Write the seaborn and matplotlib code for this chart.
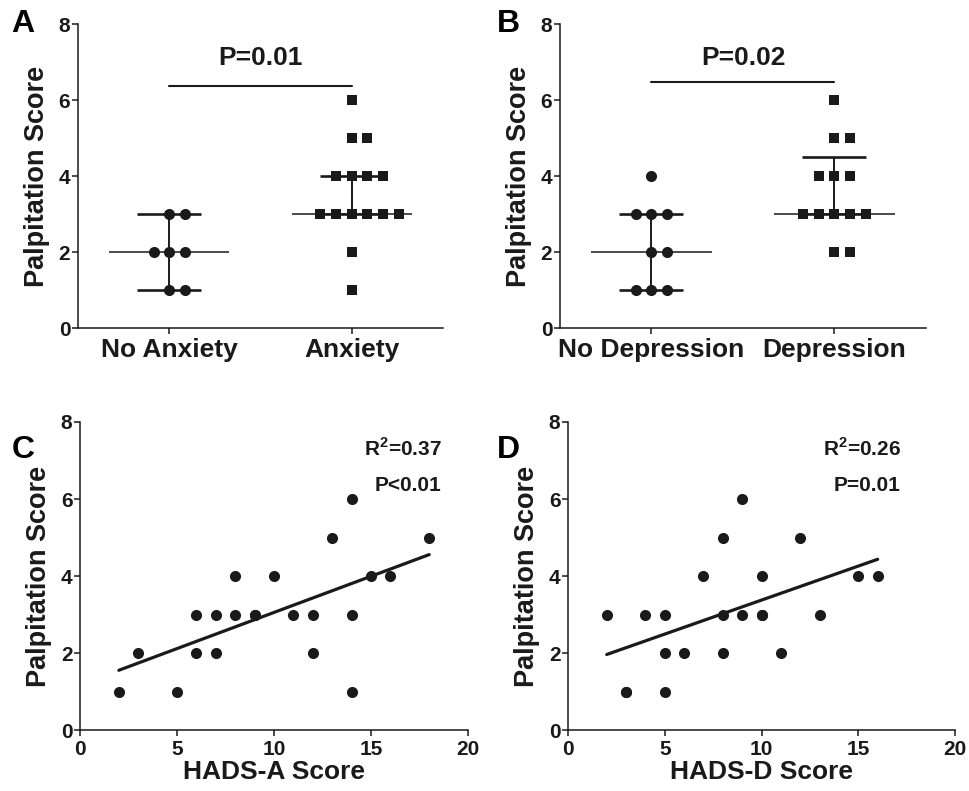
import numpy as np
import pandas as pd
import matplotlib
matplotlib.use("Agg")
import matplotlib.pyplot as plt
import seaborn as sns

# ---------------- data ----------------
anx_groups = ["No Anxiety", "Anxiety"]
no_anxiety = [3, 3, 2, 2, 2, 1, 1]
anxiety = [6, 5, 5, 4, 4, 4, 4, 3, 3, 3, 3, 3, 3, 2, 1]
p_anx = "P=0.01"

dep_groups = ["No Depression", "Depression"]
no_depression = [4, 3, 3, 3, 2, 2, 1, 1, 1]
depression = [6, 5, 5, 4, 4, 4, 3, 3, 3, 3, 3, 2, 2]
p_dep = "P=0.02"

hads_a = [2, 3, 5, 6, 6, 7, 7, 8, 8, 9, 9, 10, 11, 12, 12, 13, 14, 14, 14, 15, 16, 18]
palp_a = [1, 2, 1, 3, 2, 3, 2, 4, 3, 3, 3, 4, 3, 3, 2, 5, 6, 3, 1, 4, 4, 5]
stats_a = [r"R$^{\mathbf{2}}$=0.37", "P<0.01"]

hads_d = [2, 3, 3, 4, 5, 5, 5, 6, 7, 8, 8, 8, 9, 9, 10, 10, 10, 11, 12, 13, 15, 16]
palp_d = [3, 1, 1, 3, 3, 2, 1, 2, 4, 5, 3, 2, 6, 3, 4, 3, 3, 2, 5, 3, 4, 4]
stats_d = [r"R$^{\mathbf{2}}$=0.26", "P=0.01"]

y_ticks = [0, 2, 4, 6, 8]
x_ticks_scatter = [0, 5, 10, 15, 20]
panel_letters = ["A", "B", "C", "D"]

# ---------------- style ----------------
sns.set_theme(style="ticks")
plt.rcParams["font.family"] = ["Liberation Sans", "DejaVu Sans"]
plt.rcParams["font.weight"] = "bold"
plt.rcParams["axes.labelweight"] = "bold"
plt.rcParams["mathtext.fontset"] = "custom"
plt.rcParams["mathtext.bf"] = "Liberation Sans:bold"
plt.rcParams["mathtext.rm"] = "Liberation Sans:bold"
INK = "#1a1a1a"

fig = plt.figure(figsize=(9.7, 7.91), dpi=100)


def style_axes(ax):
    sns.despine(ax=ax)
    for s in ("left", "bottom"):
        ax.spines[s].set_linewidth(1.1)
        ax.spines[s].set_color(INK)
    ax.tick_params(direction="out", length=4, width=1.1, color=INK,
                   labelcolor=INK, pad=1.5)
    ax.set_ylim(0, 8)
    ax.set_yticks(y_ticks)
    for lab in ax.get_yticklabels():
        lab.set_fontsize(15)
        lab.set_fontweight("bold")
    ax.set_ylabel("Palpitation Score", fontsize=19.5, fontweight="bold",
                  color=INK, labelpad=6)


def dot_positions(values, center, step=0.086):
    vals = np.asarray(values)
    xs = np.empty(len(vals), float)
    for v in np.unique(vals):
        idx = np.where(vals == v)[0]
        k = len(idx)
        xs[idx] = center + (np.arange(k) - (k - 1) // 2) * step
    return xs


def dot_panel(ax, groups, vals0, vals1, ptxt, bar_y):
    df = pd.DataFrame({
        "group": [groups[0]] * len(vals0) + [groups[1]] * len(vals1),
        "score": list(vals0) + list(vals1),
        "x": np.concatenate([dot_positions(vals0, 0), dot_positions(vals1, 1)]),
    })
    sns.scatterplot(data=df[df.group == groups[0]], x="x", y="score",
                    marker="o", s=64, color=INK, linewidth=0, ax=ax,
                    legend=False, zorder=3)
    sns.scatterplot(data=df[df.group == groups[1]], x="x", y="score",
                    marker="s", s=56, color=INK, linewidth=0, ax=ax,
                    legend=False, zorder=3)
    for i, g in enumerate(groups):
        v = df.loc[df.group == g, "score"].values
        q1, med, q3 = np.percentile(v, [25, 50, 75], method="weibull")
        ax.hlines(med, i - 0.33, i + 0.33, color=INK, lw=1.1, zorder=2)
        ax.hlines([q1, q3], i - 0.175, i + 0.175, color=INK, lw=1.9, zorder=2)
        ax.vlines(i, q1, q3, color=INK, lw=1.4, zorder=2)
    ax.plot([0, 1], [bar_y, bar_y], color=INK, lw=1.5)
    ax.text(0.5, 7.1, ptxt, ha="center", va="center", fontsize=19,
            fontweight="bold", color=INK)
    ax.set_xlim(-0.5, 1.5)
    style_axes(ax)
    ax.set_xticks([0, 1])
    ax.set_xticklabels(groups, fontsize=19, fontweight="bold")
    ax.tick_params(axis="x", pad=3)
    ax.set_xlabel("")


def reg_panel(ax, x, y, stats, xlabel, text_x):
    sns.regplot(x=x, y=y, ci=None, ax=ax,
                scatter_kws=dict(s=64, color=INK, linewidths=0, alpha=1),
                line_kws=dict(color=INK, lw=2.3))
    ax.set_xlim(0, 20)
    ax.set_xticks(x_ticks_scatter)
    style_axes(ax)
    for lab in ax.get_xticklabels():
        lab.set_fontsize(15)
        lab.set_fontweight("bold")
    ax.tick_params(axis="x", pad=3)
    ax.set_xlabel(xlabel, fontsize=19, fontweight="bold", color=INK,
                  labelpad=1)
    ax.text(text_x, 7.32, stats[0], ha="right", va="center", fontsize=15,
            fontweight="bold", color=INK)
    ax.text(text_x, 6.35, stats[1], ha="right", va="center", fontsize=15,
            fontweight="bold", color=INK)


axA = fig.add_axes([0.0804, 0.5853, 0.3763, 0.3843])
axB = fig.add_axes([0.5773, 0.5853, 0.3773, 0.3843])
axC = fig.add_axes([0.0825, 0.0771, 0.400, 0.3894])
axD = fig.add_axes([0.5856, 0.0771, 0.399, 0.3894])

dot_panel(axA, anx_groups, no_anxiety, anxiety, p_anx, 6.37)
dot_panel(axB, dep_groups, no_depression, depression, p_dep, 6.47)
reg_panel(axC, hads_a, palp_a, stats_a, "HADS-A Score", 18.65)
reg_panel(axD, hads_d, palp_d, stats_d, "HADS-D Score", 17.2)

letter_pos = [(0.012, 0.989), (0.512, 0.989), (0.012, 0.450), (0.512, 0.450)]
for letter, (lx, ly) in zip(panel_letters, letter_pos):
    fig.text(lx, ly, letter, ha="left", va="top", fontsize=23,
             fontweight="bold", color="black")

fig.savefig("out.png", dpi=100)
